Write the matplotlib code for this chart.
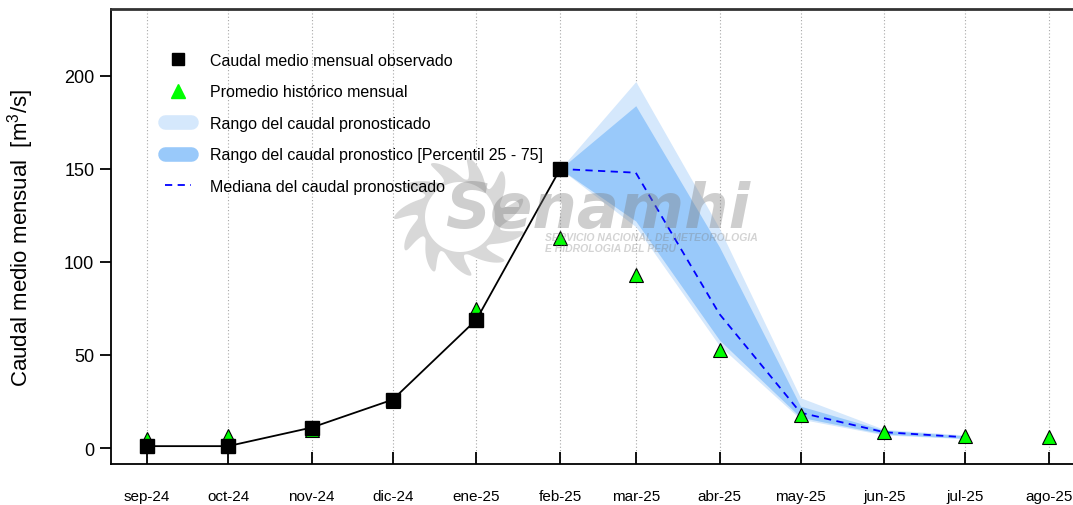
import matplotlib
matplotlib.use("Agg")
import matplotlib.pyplot as plt
from matplotlib.lines import Line2D
from matplotlib.patches import Polygon
import numpy as np
import pandas as pd

plt.rcParams['font.family'] = ['Liberation Sans', 'DejaVu Sans']
plt.rcParams['mathtext.fontset'] = 'custom'
plt.rcParams['mathtext.rm'] = 'Liberation Sans'

# meses del año hidrologico
meses = pd.date_range('2024-09-01', periods=12, freq='MS')
etiquetas = ['sep-24', 'oct-24', 'nov-24', 'dic-24', 'ene-25', 'feb-25',
             'mar-25', 'abr-25', 'may-25', 'jun-25', 'jul-25', 'ago-25']

# caudal observado (sep-24 a feb-25)
observado = [1, 1, 11, 26, 69, 150]
# promedio historico mensual
historico = [5, 6.5, 9.5, 25, 74.5, 113, 93, 52.5, 17.5, 8.5, 6.2, 6]

# pronostico (feb-25 a jul-25)
mediana = [150, 148, 72, 19, 8.5, 5.8]
p25 = [150, 122, 58, 16.5, 7.5, 5.2]
p75 = [150, 184, 108, 22.5, 9.5, 6.5]
minimo = [150, 119, 55, 15.5, 7, 5]
maximo = [150, 197, 118, 27, 10, 7]

W, H = 1073, 506
fig = plt.figure(figsize=(W / 100, H / 100), dpi=100)
ax = fig.add_axes([111 / W, 41 / H, (W - 111) / W, 455 / H])

f_obs = meses[:6]
f_pro = meses[5:11]

claro = '#d5e8fc'
oscuro = '#99c9fa'

for d in meses:
    ax.axvline(d, color='#a8a8a8', lw=0.8, ls=(0, (1, 2)), zorder=0)

ax.fill_between(f_pro, minimo, maximo, color=claro, lw=0, zorder=1)
ax.fill_between(f_pro, p25, p75, color=oscuro, lw=0, zorder=1.5)


# marca de agua (en pixeles de la figura)
def px(x, y):
    return x / W, 1 - y / H


cx, cy = 460, 218
th = np.linspace(0, 2 * np.pi, 1500)
llama = ((1 + np.cos(11 * th)) / 2) ** 1.4
rr = 42 + 24 * llama
th2 = th - 0.3 * llama
sol = [px(cx + r * np.cos(t), cy + 0.9 * r * np.sin(t)) for r, t in zip(rr, th2)]
ax.add_patch(Polygon(sol, closed=True, transform=fig.transFigure, fc='#d8d8d8',
                     ec='none', zorder=2, clip_on=False))
disco = [px(cx + 35 * np.cos(t), cy + 35 * np.sin(t)) for t in th]
ax.add_patch(Polygon(disco, closed=True, transform=fig.transFigure, fc='white',
                     ec='none', zorder=2.05, clip_on=False))
fig.text(*px(445, 228), 'Senamhi', fontsize=45, fontweight='bold',
         style='italic', family='DejaVu Sans', color='#7a7a7a', alpha=0.37,
         ha='left', va='baseline', zorder=2.2)
for yy, txt in [(241, 'SERVICIO NACIONAL DE METEOROLOGIA'),
                (252, 'E HIDROLOGIA DEL PERU')]:
    fig.text(*px(545, yy), txt, fontsize=7.5, fontweight='bold',
             style='italic', color='#7a7a7a', alpha=0.33,
             ha='left', va='baseline', zorder=2.2)

ax.plot(f_pro, mediana, color='#0000ff', lw=1.3, ls=(0, (4, 3)), zorder=4)
ax.plot(meses, historico, ls='none', marker='^', markersize=10,
        markerfacecolor='#00ff00', markeredgecolor='black', mew=0.8, zorder=5)
ax.plot(f_obs, observado, color='black', lw=1.3, marker='s', markersize=10,
        zorder=6)

ax.set_xlim(meses[0] - pd.Timedelta(days=13.33),
            meses[-1] + pd.Timedelta(days=8.9))
ax.set_ylim(-8.6, 236)

ax.set_xticks(meses)
ax.set_xticklabels(etiquetas, fontsize=11)
ax.set_yticks([0, 50, 100, 150, 200])
ax.tick_params(axis='x', direction='in', length=9, width=1.3, pad=18)
ax.tick_params(axis='y', direction='out', length=8, width=1.3, pad=4,
               labelsize=13)

ax.spines['right'].set_visible(False)
ax.spines['left'].set_linewidth(1.3)
ax.spines['bottom'].set_linewidth(1.3)
ax.spines['top'].set_linewidth(2)
ax.spines['top'].set_color('#333333')

ax.set_ylabel('Caudal medio mensual  [m$^3$/s]', fontsize=16)
ax.yaxis.set_label_coords(-0.078, 0.5)

fs = 11.5
fpx = fs * 100 / 72
handles = [
    Line2D([], [], ls='none', marker='s', color='black', markersize=8),
    Line2D([], [], ls='none', marker='^', color='#00ff00', markersize=10),
    Line2D([], [], color=claro, lw=10.5, solid_capstyle='round'),
    Line2D([], [], color=oscuro, lw=10.5, solid_capstyle='round'),
    Line2D([], [], color='#0000ff', lw=1.3, ls=(0, (4, 3))),
]
labels = ['Caudal medio mensual observado',
          'Promedio histórico mensual',
          'Rango del caudal pronosticado',
          'Rango del caudal pronostico [Percentil 25 - 75]',
          'Mediana del caudal pronosticado']
ax.legend(handles, labels, loc='upper left', bbox_to_anchor=px(165, 54),
          bbox_transform=fig.transFigure, frameon=False, fontsize=fs,
          borderpad=0, borderaxespad=0, handlelength=26 / fpx,
          handletextpad=19 / fpx, labelspacing=1.03)

fig.savefig('out.png', dpi=100)
